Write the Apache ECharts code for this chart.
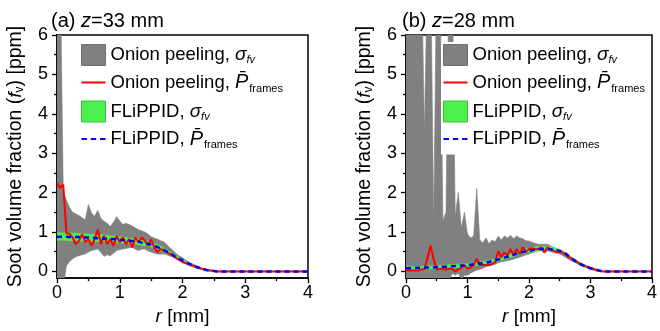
<!DOCTYPE html>
<html><head><meta charset="utf-8">
<script src="https://cdn.jsdelivr.net/npm/echarts@6/dist/echarts.min.js"></script>
<style>html,body{margin:0;padding:0;background:#fff}#c{width:660px;height:331px}</style>
</head><body><div id="c"></div>
<script>
// ---------- Panel (a) z = 33 mm ----------
const rA = [0,0.05,0.1,0.15,0.2,0.25,0.3,0.35,0.4,0.45,0.5,0.55,0.6,0.65,0.7,0.75,0.8,0.85,0.9,0.95,1,1.05,1.1,1.15,1.2,1.25,1.3,1.35,1.4,1.45,1.5,1.55,1.6,1.65,1.7,1.75,1.8,1.85,1.9,1.95,2,2.05,2.1,2.15,2.2,2.25,2.3,2.35,2.4,2.45,2.5,2.55,2.6,4];
const onionMeanA = [2.25,2.12,2.20,0.97,0.95,0.86,0.69,0.78,0.94,0.74,0.82,0.65,0.82,1.06,0.69,0.90,0.69,0.82,0.65,0.90,0.74,0.86,0.69,0.82,0.61,0.86,0.74,0.86,0.78,0.65,0.81,0.61,0.49,0.57,0.52,0.49,0.44,0.40,0.34,0.29,0.24,0.21,0.18,0.16,0.13,0.10,0.07,0.05,0.03,0.02,0.01,0,0,0];
const onionUpA = [8,8,2.0,1.82,1.62,1.50,1.46,1.42,1.36,1.31,1.70,1.48,1.40,1.55,1.34,1.27,1.22,1.14,1.25,1.39,1.28,1.19,1.22,1.19,1.15,1.10,1.06,1.03,1.00,0.95,0.88,0.85,0.82,0.78,0.75,0.68,0.60,0.53,0.45,0.39,0.35,0.29,0.24,0.20,0.16,0.12,0.09,0.07,0.05,0.03,0.02,0.01,0,0];
const onionLoA = [-1,-1,-0.4,0.14,0.25,0.32,0.37,0.40,0.42,0.44,0.49,0.53,0.55,0.57,0.48,0.38,0.42,0.40,0.46,0.53,0.55,0.57,0.58,0.60,0.61,0.56,0.53,0.56,0.57,0.52,0.49,0.46,0.44,0.44,0.44,0.42,0.39,0.36,0.31,0.27,0.23,0.19,0.15,0.12,0.09,0.07,0.05,0.03,0.02,0.01,0,0,0,0];
const flipMeanA = [0.88,0.88,0.88,0.88,0.87,0.87,0.87,0.87,0.86,0.86,0.86,0.85,0.85,0.84,0.84,0.83,0.83,0.82,0.82,0.81,0.80,0.80,0.79,0.78,0.77,0.76,0.75,0.73,0.72,0.70,0.68,0.65,0.62,0.58,0.55,0.50,0.46,0.41,0.36,0.32,0.28,0.24,0.20,0.16,0.13,0.10,0.08,0.05,0.03,0.02,0.01,0,0,0];
const flipUpA = [0.98,0.98,0.98,0.98,0.97,0.97,0.97,0.96,0.95,0.95,0.95,0.94,0.94,0.93,0.93,0.92,0.91,0.90,0.90,0.89,0.88,0.87,0.86,0.85,0.84,0.83,0.82,0.80,0.78,0.76,0.74,0.71,0.68,0.64,0.60,0.55,0.50,0.45,0.40,0.35,0.31,0.26,0.22,0.18,0.14,0.11,0.09,0.06,0.04,0.02,0.01,0,0,0];
const flipLoA = [0.79,0.79,0.79,0.79,0.78,0.78,0.78,0.78,0.77,0.77,0.77,0.76,0.76,0.76,0.75,0.75,0.75,0.74,0.74,0.73,0.73,0.72,0.72,0.71,0.70,0.69,0.68,0.66,0.65,0.64,0.62,0.59,0.56,0.52,0.49,0.45,0.42,0.37,0.33,0.29,0.25,0.22,0.18,0.14,0.12,0.09,0.07,0.04,0.02,0.01,0,0,0,0];

// ---------- Panel (b) z = 28 mm ----------
const rB = [0,0.05,0.1,0.15,0.2,0.25,0.3,0.35,0.4,0.45,0.5,0.55,0.6,0.65,0.7,0.75,0.8,0.85,0.9,0.95,1,1.05,1.1,1.15,1.2,1.25,1.3,1.35,1.4,1.45,1.5,1.55,1.6,1.65,1.7,1.75,1.8,1.85,1.9,1.95,2,2.05,2.1,2.15,2.2,2.25,2.3,2.35,2.4,2.45,2.5,2.55,2.6,2.65,2.7,2.75,2.8,2.85,2.9,2.95,3,3.05,3.1,3.15,3.2,4];
const onionMeanB = [0.02,0.02,0.02,0.02,0.02,0.05,0.06,0.35,0.65,0.30,0.05,0.07,0.06,0.05,0.07,0.07,0,0.05,0.09,0.16,0.07,0.10,0.16,0.32,0.16,0.16,0.16,0.17,0.18,0.24,0.51,0.36,0.48,0.40,0.57,0.40,0.57,0.44,0.61,0.49,0.57,0.58,0.57,0.57,0.61,0.49,0.61,0.56,0.52,0.49,0.49,0.48,0.42,0.36,0.32,0.26,0.22,0.16,0.14,0.12,0.08,0.06,0.03,0.01,0,0];
const onionUpB = [8,8,8,8,8,8,3.5,8,8,1.2,8,8,1.3,1.5,8,8,1.4,2.0,1.1,1.5,0.95,0.85,0.9,2.1,0.80,0.72,0.85,0.70,0.80,0.75,0.90,0.80,0.90,0.85,0.92,0.83,0.90,0.85,0.83,0.78,0.77,0.74,0.71,0.69,0.69,0.69,0.69,0.65,0.61,0.57,0.54,0.50,0.46,0.40,0.35,0.30,0.25,0.21,0.17,0.13,0.10,0.07,0.05,0.02,0,0];
const onionLoB = [-1,-1,-1,-1,-1,-1,-1,-1,-1,-1,-1,-1,-1,-1,-0.3,-0.05,-0.1,-0.05,-0.2,-0.1,-0.1,-0.05,0,0.03,0.05,0.08,0.12,0.14,0.16,0.18,0.22,0.24,0.26,0.27,0.29,0.31,0.34,0.36,0.39,0.42,0.44,0.47,0.50,0.52,0.53,0.46,0.52,0.50,0.48,0.46,0.44,0.40,0.35,0.30,0.26,0.22,0.18,0.14,0.11,0.08,0.05,0.03,0.01,0,0,0];
const flipMeanB = [0.08,0.08,0.08,0.09,0.09,0.09,0.09,0.10,0.10,0.10,0.11,0.11,0.12,0.12,0.13,0.13,0.14,0.14,0.15,0.15,0.16,0.17,0.18,0.19,0.20,0.21,0.22,0.24,0.26,0.28,0.30,0.32,0.35,0.37,0.40,0.42,0.45,0.47,0.49,0.51,0.52,0.54,0.55,0.56,0.57,0.57,0.57,0.56,0.55,0.54,0.52,0.49,0.45,0.38,0.32,0.27,0.22,0.18,0.14,0.11,0.08,0.06,0.04,0.02,0,0];
const flipUpB = [0.12,0.12,0.12,0.13,0.13,0.13,0.13,0.14,0.14,0.14,0.15,0.15,0.16,0.16,0.17,0.17,0.18,0.18,0.19,0.19,0.20,0.21,0.22,0.23,0.24,0.25,0.26,0.28,0.30,0.32,0.34,0.36,0.39,0.41,0.44,0.46,0.49,0.52,0.54,0.57,0.58,0.60,0.62,0.63,0.64,0.64,0.64,0.63,0.61,0.59,0.56,0.52,0.48,0.41,0.35,0.30,0.25,0.21,0.17,0.13,0.10,0.08,0.05,0.03,0,0];
const flipLoB = [0.04,0.04,0.04,0.05,0.05,0.05,0.05,0.06,0.06,0.06,0.07,0.07,0.08,0.08,0.09,0.09,0.10,0.10,0.11,0.11,0.12,0.13,0.14,0.15,0.16,0.17,0.18,0.20,0.22,0.24,0.26,0.28,0.31,0.33,0.36,0.38,0.41,0.43,0.45,0.47,0.48,0.50,0.51,0.52,0.53,0.53,0.53,0.52,0.51,0.50,0.48,0.46,0.42,0.35,0.29,0.24,0.19,0.15,0.11,0.08,0.06,0.04,0.02,0.01,0,0];

// ---------- Axes / labels ----------
const yTicks = [0,1,2,3,4,5,6];
const yMinorTicks = [0.5,1.5,2.5,3.5,4.5,5.5];
const titles = ['(a) {i|z}=33 mm', '(b) {i|z}=28 mm'];
const NAME_OP_S = 'Onion peeling, σfv';
const NAME_OP_P = 'Onion peeling, Pframes';
const NAME_FL_S = 'FLiPPID, σfv';
const NAME_FL_P = 'FLiPPID, Pframes';

const FONT = 'Liberation Sans, Arial, sans-serif';
const BLACK = '#000';
const GRAY = '#808080';
const GREEN = '#4cf04c';
const RED = '#ff0000';
const BLUE = '#0000ff';

const pairs = (xs, ys) => xs.map((x, i) => [x, ys[i]]);

// shaded band between lo and hi, drawn through the axis scales (api.coord)
function band(xs, lo, hi, color, name, gi) {
  return {
    type: 'custom', name: name, xAxisIndex: gi, yAxisIndex: gi * 2, clip: true, silent: true,
    data: xs.map((x, i) => [x, lo[i], hi[i]]),
    encode: { x: 0, y: [1, 2] },
    itemStyle: { color: color },
    renderItem: function (params, api) {
      if (params.dataIndex !== 0) return null;
      const top = xs.map((x, i) => api.coord([x, hi[i]]));
      const bot = xs.map((x, i) => api.coord([x, lo[i]])).reverse();
      return { type: 'polygon', shape: { points: top.concat(bot) },
        style: { fill: color, stroke: color, lineWidth: 0.6 } };
    }
  };
}

function panelSeries(gi, xs, opMean, opUp, opLo, flMean, flUp, flLo) {
  return [
    band(xs, opLo, opUp, GRAY, NAME_OP_S, gi),
    band(xs, flLo, flUp, GREEN, NAME_FL_S, gi),
    { type: 'line', name: NAME_OP_P, xAxisIndex: gi, yAxisIndex: gi * 2, data: pairs(xs, opMean),
      symbol: 'none', lineStyle: { color: RED, width: 2 }, itemStyle: { color: RED } },
    { type: 'line', name: NAME_FL_P, xAxisIndex: gi, yAxisIndex: gi * 2, data: pairs(xs, flMean),
      symbol: 'none', lineStyle: { color: BLUE, width: 2.5, type: [5, 4] }, itemStyle: { color: BLUE } }
  ];
}

const grids = [
  { left: 57, top: 35, width: 251, height: 250 },
  { left: 406, top: 35, width: 250, height: 250 }
].map(g => Object.assign(g, { show: true, borderColor: BLACK, borderWidth: 1.5, backgroundColor: 'transparent' }));

const richSub = {
  i: { fontStyle: 'italic', fontSize: 19, fontFamily: FONT, color: BLACK },
  s: { fontSize: 12, fontFamily: FONT, color: BLACK, padding: [9, 0, 0, 0] }
};

function xAxis(gi) {
  return {
    type: 'value', gridIndex: gi, min: 0, max: 4, interval: 1,
    axisLine: { show: true, onZero: false, lineStyle: { color: BLACK, width: 1.5 } },
    axisTick: { show: true, length: 5, lineStyle: { color: BLACK, width: 1.3 } },
    minorTick: { show: true, splitNumber: 2, length: 3, lineStyle: { color: BLACK, width: 1.3 } },
    splitLine: { show: false },
    axisLabel: { fontSize: 18, color: BLACK, fontFamily: FONT, margin: 6 },
    name: '{i|r} [mm]', nameLocation: 'middle', nameGap: 28,
    nameTextStyle: { fontSize: 19, color: BLACK, fontFamily: FONT, rich: richSub }
  };
}
function yAxes(gi) {
  return [
    {
      type: 'value', gridIndex: gi, min: -0.17, max: 6,
      axisLine: { show: true, onZero: false, lineStyle: { color: BLACK, width: 1.5 } },
      axisTick: { show: true, length: 5, customValues: yTicks, lineStyle: { color: BLACK, width: 1.3 } },
      splitLine: { show: false },
      axisLabel: { customValues: yTicks, fontSize: 18, color: BLACK, fontFamily: FONT, margin: 9 },
      name: 'Soot volume fraction ({i|f}{s|v}) [ppm]', nameLocation: 'middle', nameGap: 31,
      nameTextStyle: { fontSize: 19.5, color: BLACK, fontFamily: FONT, rich: richSub }
    },
    {
      type: 'value', gridIndex: gi, min: -0.17, max: 6, position: 'left',
      axisLine: { show: false },
      axisTick: { show: true, length: 3, customValues: yMinorTicks, lineStyle: { color: BLACK, width: 1.3 } },
      splitLine: { show: false },
      axisLabel: { show: false }
    }
  ];
}

const legendRich = {
  g: { fontStyle: 'italic', fontSize: 19, fontFamily: FONT, color: BLACK },
  gs: { fontStyle: 'italic', fontSize: 11, fontFamily: FONT, color: BLACK, padding: [10, 0, 0, 0] },
  p: { fontStyle: 'italic', fontSize: 20, fontFamily: FONT, color: BLACK },
  ps: { fontSize: 11, fontFamily: FONT, color: BLACK, padding: [12, 0, 0, 1] }
};
const legendText = {};
legendText[NAME_OP_S] = 'Onion peeling, {g|σ}{gs|fv}';
legendText[NAME_OP_P] = 'Onion peeling, {p|P\u0304}{ps|frames}';
legendText[NAME_FL_S] = 'FLiPPID, {g|σ}{gs|fv}';
legendText[NAME_FL_P] = 'FLiPPID, {p|P\u0304}{ps|frames}';

function legend(left) {
  return {
    left: left, top: 42, orient: 'vertical', itemWidth: 24, itemHeight: 21, itemGap: 6.5,
    padding: [2, 4, 4, 2], backgroundColor: '#fff', selectedMode: false,
    textStyle: { fontSize: 18.5, color: BLACK, fontFamily: FONT, rich: legendRich },
    formatter: n => legendText[n] || n,
    data: [
      { name: NAME_OP_S, icon: 'rect', itemStyle: { color: GRAY, borderColor: '#6e6e6e', borderWidth: 1 } },
      { name: NAME_OP_P, icon: 'path://M0 0H24V2H0Z', itemStyle: { color: RED, borderWidth: 0 } },
      { name: NAME_FL_S, icon: 'rect', itemStyle: { color: GREEN, borderColor: '#3cc03c', borderWidth: 1 } },
      { name: NAME_FL_P, icon: 'path://M0 0H5V2H0Z M8.5 0H13.5V2H8.5Z M17 0H22V2H17Z', itemStyle: { color: BLUE, borderWidth: 0 } }
    ]
  };
}

const titleStyle = { fontSize: 20, fontWeight: 'normal', color: BLACK, fontFamily: FONT,
  rich: { i: { fontStyle: 'italic', fontSize: 20, fontFamily: FONT, color: BLACK } } };

const option = {
  animation: false,
  backgroundColor: '#fff',
  title: [
    { text: titles[0], left: 51, top: 11, padding: 0, textStyle: titleStyle },
    { text: titles[1], left: 402, top: 11, padding: 0, textStyle: titleStyle }
  ],
  legend: [legend(79), legend(441)],
  grid: grids,
  xAxis: [xAxis(0), xAxis(1)],
  yAxis: [...yAxes(0), ...yAxes(1)],
  series: [
    ...panelSeries(0, rA, onionMeanA, onionUpA, onionLoA, flipMeanA, flipUpA, flipLoA),
    ...panelSeries(1, rB, onionMeanB, onionUpB, onionLoB, flipMeanB, flipUpB, flipLoB)
  ]
};

const chart = echarts.init(document.getElementById('c'), null, { renderer: 'canvas' });
chart.setOption(option);
</script>
</body></html>
